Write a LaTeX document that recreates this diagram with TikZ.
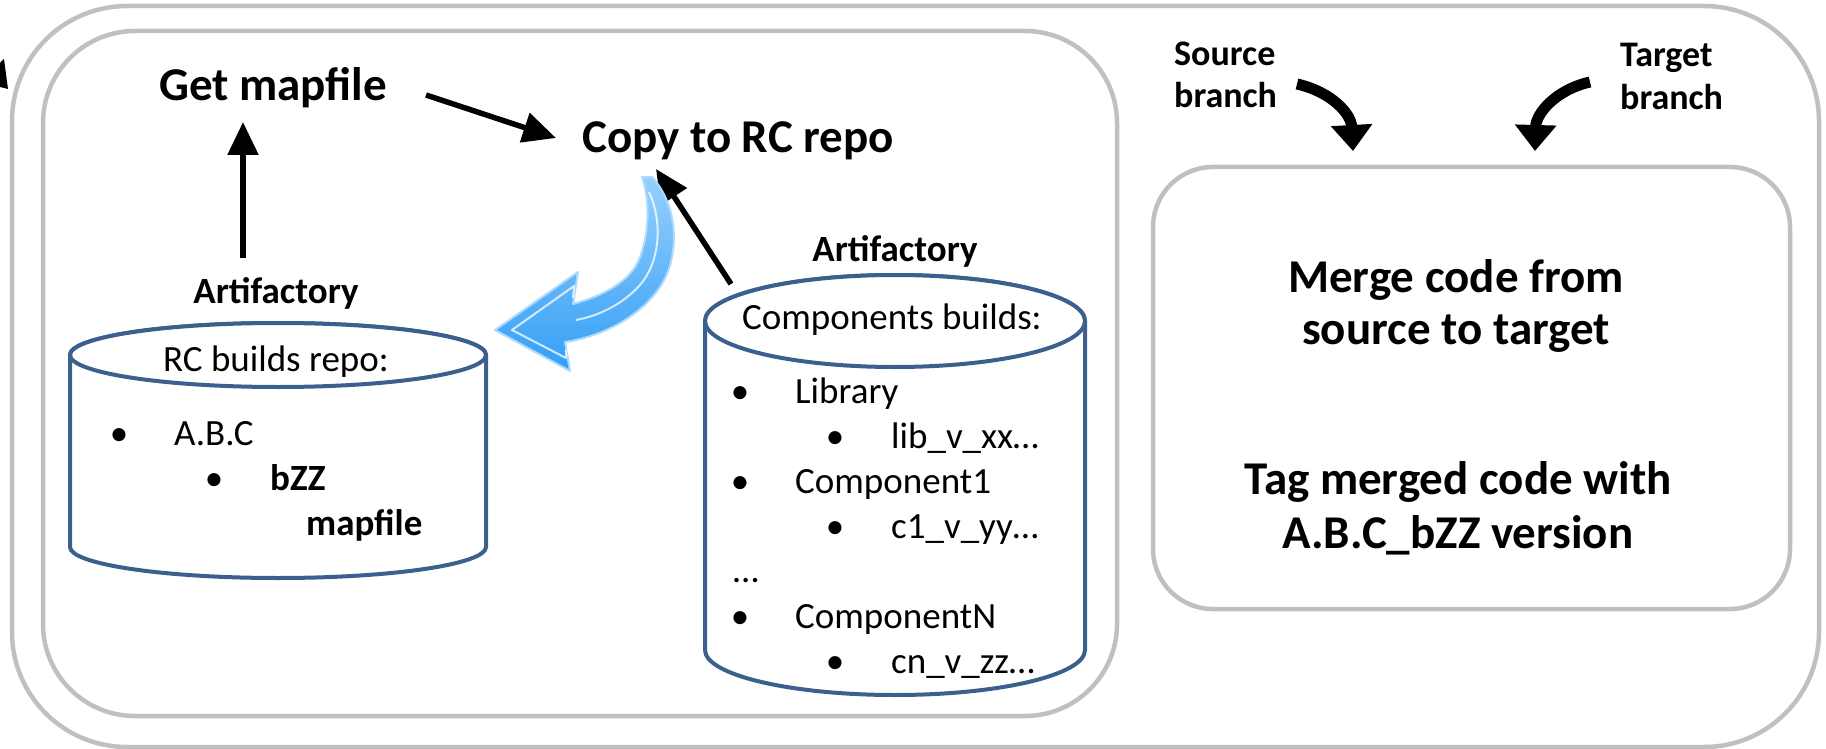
\documentclass[tikz,border=0pt]{standalone}
\usepackage{fontspec}
\setmainfont{Carlito}
\usetikzlibrary{arrows.meta}
\definecolor{boxgray}{RGB}{192,192,192}
\definecolor{cylblue}{RGB}{60,96,142}
\definecolor{arrowblue}{RGB}{52,158,245}
\definecolor{arrowlight}{RGB}{150,208,252}
\definecolor{arrowedge}{RGB}{170,218,255}
\begin{document}
\begin{tikzpicture}[x=1pt,y=-1pt,
  graybox/.style={draw=boxgray,line width=4.5pt},
  cyl/.style={draw=cylblue,line width=4pt,fill=white},
  arr/.style={line width=5.5pt,-{Triangle[length=33pt,width=30pt]}},
  curvearr/.style={line width=11pt,-{Triangle[length=26pt,width=40pt]}},
  bigtxt/.style={font=\fontsize{47}{52}\selectfont\bfseries,inner sep=0pt,anchor=base},
  medb/.style={font=\fontsize{37}{40}\selectfont\bfseries,inner sep=0pt,anchor=base},
  brlbl/.style={font=\fontsize{36}{40}\selectfont\bfseries,inner sep=0pt,anchor=base west},
  reg/.style={font=\fontsize{37}{40}\selectfont,inner sep=0pt,anchor=base},
  regl/.style={font=\fontsize{37}{40}\selectfont,inner sep=0pt,anchor=base west},
  medbl/.style={font=\fontsize{37}{40}\selectfont\bfseries,inner sep=0pt,anchor=base west},
  glint/.style={draw=white,line width=2pt,opacity=0.75,line join=round}]
\useasboundingbox (0,0) rectangle (1826,749);

% frames
\draw[graybox,rounded corners=115pt] (12,6) rectangle (1819,747);
\draw[graybox,rounded corners=92pt] (43,31) rectangle (1117,716);
\draw[graybox,rounded corners=60pt] (1153,167) rectangle (1790,609);

% fragment of an arrow at the left border
\fill (0,63) -- (4,59) -- (8,89) -- (0,87) -- cycle;

% left cylinder
\path[cyl] (70,355) -- (70,547) arc[start angle=180,end angle=360,x radius=208pt,y radius=31pt] -- (486,355) arc[start angle=0,end angle=180,x radius=208pt,y radius=32pt] -- cycle;
\draw[cyl] (278,355) ellipse[x radius=208pt,y radius=32pt];
% right cylinder
\path[cyl] (705,321) -- (705,650) arc[start angle=180,end angle=360,x radius=190pt,y radius=45pt] -- (1085,321) arc[start angle=0,end angle=180,x radius=190pt,y radius=46pt] -- cycle;
\draw[cyl] (895,321) ellipse[x radius=190pt,y radius=46pt];

% main labels
\node[bigtxt] (getmap) at (273,101) {Get mapfile};
\node[bigtxt] (copy) at (738,153) {Copy to RC repo};
\node[medb] (artL) at (276,303) {Artifactory};
\node[medb] (artR) at (895,261) {Artifactory};

% left cylinder content
\node[reg] (rchead) at (276,371) {RC builds repo:};
\node[reg] (b1) at (119,445) {•};
\node[regl] (abc) at (174,445) {A.B.C};
\node[reg] (b2) at (214,490) {•};
\node[medbl] (bzz) at (270,490) {bZZ};
\node[medbl] (mapf) at (306,535) {mapfile};

% right cylinder content
\node[reg] (comphead) at (892,329) {Components builds:};
\node[reg] (rb1) at (740,403) {•};
\node[regl] (lib) at (795,403) {Library};
\node[reg] (rb2) at (835,448) {•};
\node[regl] (libv) at (891,448) {lib\_v\_xx…};
\node[reg] (rb3) at (740,493) {•};
\node[regl] (c1) at (795,493) {Component1};
\node[reg] (rb4) at (835,538) {•};
\node[regl] (c1v) at (891,538) {c1\_v\_yy…};
\node[regl] (dots) at (733,582) {…};
\node[reg] (rb5) at (740,628) {•};
\node[regl] (cn) at (795,628) {ComponentN};
\node[reg] (rb6) at (835,673) {•};
\node[regl] (cnv) at (891,673) {cn\_v\_zz…};

% right box
\node[bigtxt] (m1) at (1456,292) {Merge code from};
\node[bigtxt] (m2) at (1456,344) {source to target};
\node[bigtxt] (t1) at (1458,494) {Tag merged code with};
\node[bigtxt] (t2) at (1458,548) {A.B.C\_bZZ version};
\node[brlbl] (src1) at (1174,66) {Source};
\node[brlbl] (src2) at (1174,108) {branch};
\node[brlbl] (tgt1) at (1620,67) {Target};
\node[brlbl] (tgt2) at (1620,110) {branch};

% straight arrows
\coordinate (vA) at (243,258);
\coordinate (vB) at (243,122);
\coordinate (gA) at (426,95);
\coordinate (gB) at (556,138);
\coordinate (cA) at (731,284);
\coordinate (cB) at (656,169);
\draw[arr] (vA) -- (vB);
\draw[arr] (gA) -- (gB);
\draw[arr] (cA) -- (cB);

% branch arrows
\coordinate (sA) at (1297,84);
\coordinate (sB) at (1353,151);
\coordinate (tA) at (1590,82);
\coordinate (tB) at (1535,151);
\draw[curvearr] (sA) .. controls (1332,92) and (1351,114) .. (sB);
\draw[curvearr] (tA) .. controls (1555,90) and (1536,114) .. (tB);

% blue curved arrow
\path[top color=arrowlight, middle color=arrowblue, bottom color=arrowblue, draw=arrowedge, line width=2pt, line join=round]
  (652,177) .. controls (678,205) and (681,255) .. (660,287)
  .. controls (641,315) and (605,336) .. (565,342)
  -- (570,371) -- (495,330) -- (578,272) -- (573,304)
  .. controls (603,296) and (628,282) .. (638,262)
  .. controls (650,235) and (650,200) .. (642,177) -- cycle;
\draw[glint] (649,192) .. controls (663,222) and (660,262) .. (640,285)
  .. controls (622,305) and (598,316) .. (576,320);
\draw[glint] (573,298) -- (574,286) -- (512,330) -- (566,358) -- (566,350);
\end{tikzpicture}
\end{document}
